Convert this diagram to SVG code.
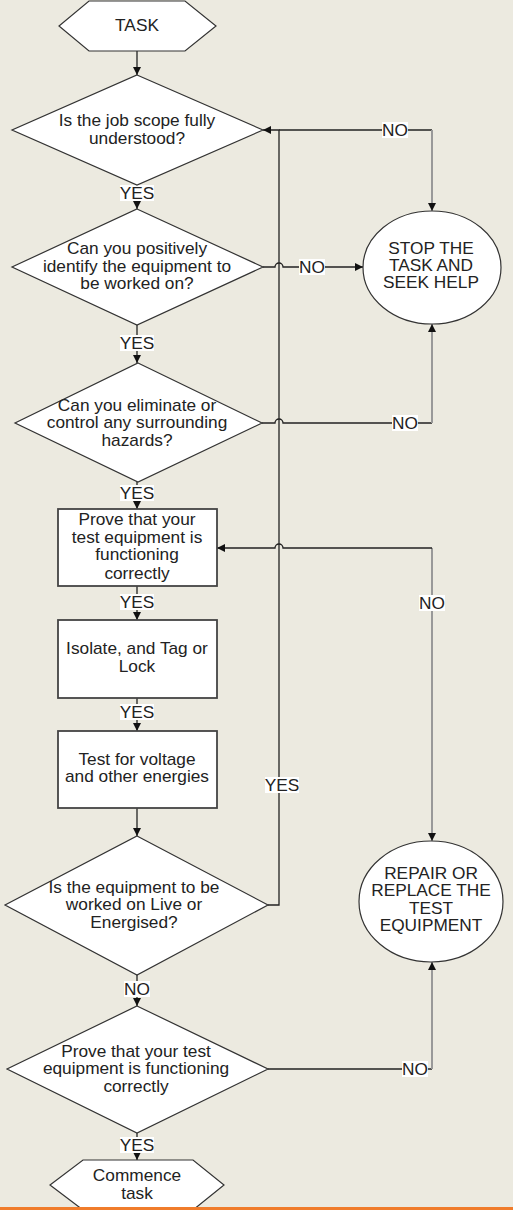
<svg xmlns="http://www.w3.org/2000/svg" width="513" height="1210" viewBox="0 0 513 1210">
<style>
.bg{fill:#ECEAE0}
.shape{fill:#fff;stroke:#333;stroke-width:1.2}
.box{fill:#fff;stroke:#444;stroke-width:1.8}
.t{font-family:"Liberation Sans",Arial,sans-serif;font-size:16px;fill:#222;text-anchor:middle}
.c{fill:none;stroke:#222;stroke-width:1.3}
.g{fill:none;stroke:#999;stroke-width:2}
.lb{fill:#fff}
</style>
<defs>
<marker id="ah" viewBox="0 0 10 10" refX="10" refY="5" markerWidth="10" markerHeight="8" markerUnits="userSpaceOnUse" orient="auto-start-reverse"><path d="M0,0 L10,5 L0,10 z" fill="#111"/></marker>
</defs>
<rect class="bg" x="0" y="0" width="513" height="1210"/>
<rect x="0" y="1207" width="513" height="3" fill="#F07C2B"/>

<g id="connectors">
<path class="c" d="M137,51 L137,75" marker-end="url(#ah)"/>
<path class="c" d="M137,185 L137,209" marker-end="url(#ah)"/>
<path class="c" d="M137,325 L137,363" marker-end="url(#ah)"/>
<path class="c" d="M137,482 L137,509" marker-end="url(#ah)"/>
<path class="c" d="M137,586 L137,620" marker-end="url(#ah)"/>
<path class="c" d="M137,698 L137,731" marker-end="url(#ah)"/>
<path class="c" d="M137,808 L137,836" marker-end="url(#ah)"/>
<path class="c" d="M137,975 L137,1006" marker-end="url(#ah)"/>
<path class="c" d="M137,1133 L137,1160" marker-end="url(#ah)"/>
<path class="c" d="M279,130 L432,130"/>
<path class="g" d="M432,130 L432,211" marker-end="url(#ah)"/>
<path class="c" d="M268,905 L279,905 L279,130 L263,130" marker-end="url(#ah)"/>
<path class="c" d="M263,267 L275,267 A4,4 0 0 1 283,267 L363,267" marker-end="url(#ah)"/>
<path class="c" d="M262,423 L275,423 A4,4 0 0 1 283,423 L432,423"/>
<path class="g" d="M432,423 L432,324" marker-end="url(#ah)"/>
<path class="g" d="M432,841 L432,548" marker-start="url(#ah)"/>
<path class="c" d="M432,548 L283,548 A4,4 0 0 0 275,548 L217,548" marker-end="url(#ah)"/>
<path class="c" d="M268,1069 L432,1069"/>
<path class="g" d="M432,1069 L432,962" marker-end="url(#ah)"/>

<rect class="lb" x="382" y="122" width="26" height="16"/>
<text class="t" transform="matrix(1.08 0 0 1 395 0)"><tspan x="0" y="136">NO</tspan></text>
<rect class="lb" x="120" y="185" width="34" height="16"/>
<text class="t" transform="matrix(1.08 0 0 1 137 0)"><tspan x="0" y="199">YES</tspan></text>
<rect class="lb" x="299" y="259" width="26" height="16"/>
<text class="t" transform="matrix(1.08 0 0 1 312 0)"><tspan x="0" y="273">NO</tspan></text>
<rect class="lb" x="120" y="335" width="34" height="16"/>
<text class="t" transform="matrix(1.08 0 0 1 137 0)"><tspan x="0" y="349">YES</tspan></text>
<rect class="lb" x="392" y="415" width="26" height="16"/>
<text class="t" transform="matrix(1.08 0 0 1 405 0)"><tspan x="0" y="429">NO</tspan></text>
<rect class="lb" x="120" y="485" width="34" height="16"/>
<text class="t" transform="matrix(1.08 0 0 1 137 0)"><tspan x="0" y="499">YES</tspan></text>
<rect class="lb" x="419" y="595" width="26" height="16"/>
<text class="t" transform="matrix(1.08 0 0 1 432 0)"><tspan x="0" y="609">NO</tspan></text>
<rect class="lb" x="120" y="594" width="34" height="16"/>
<text class="t" transform="matrix(1.08 0 0 1 137 0)"><tspan x="0" y="608">YES</tspan></text>
<rect class="lb" x="120" y="704" width="34" height="16"/>
<text class="t" transform="matrix(1.08 0 0 1 137 0)"><tspan x="0" y="718">YES</tspan></text>
<rect class="lb" x="265" y="777" width="34" height="16"/>
<text class="t" transform="matrix(1.08 0 0 1 282 0)"><tspan x="0" y="791">YES</tspan></text>
<rect class="lb" x="124" y="981" width="26" height="16"/>
<text class="t" transform="matrix(1.08 0 0 1 137 0)"><tspan x="0" y="995">NO</tspan></text>
<rect class="lb" x="402" y="1061" width="26" height="16"/>
<text class="t" transform="matrix(1.08 0 0 1 415 0)"><tspan x="0" y="1075">NO</tspan></text>
<rect class="lb" x="120" y="1137" width="34" height="16"/>
<text class="t" transform="matrix(1.08 0 0 1 137 0)"><tspan x="0" y="1151">YES</tspan></text>
</g>

<g id="task">
<polygon class="shape" points="89,1 185,1 216,26 185,51 89,51 59,26"/>
<text class="t" transform="matrix(1.08 0 0 1 137 0)"><tspan x="0" y="31">TASK</tspan></text>
</g>
<g id="d1">
<polygon class="shape" points="137,75 263,130 137,185 12,130"/>
<text class="t" transform="matrix(1.08 0 0 1 137 0)"><tspan x="0" y="126">Is the job scope fully</tspan><tspan x="0" y="144">understood?</tspan></text>
</g>
<g id="d2">
<polygon class="shape" points="137,209 263,267 137,325 12,267"/>
<text class="t" transform="matrix(1.08 0 0 1 137 0)"><tspan x="0" y="254">Can you positively</tspan><tspan x="0" y="272">identify the equipment to</tspan><tspan x="0" y="289">be worked on?</tspan></text>
</g>
<g id="d3">
<polygon class="shape" points="138,363 262,423 138,482 15,423"/>
<text class="t" transform="matrix(1.08 0 0 1 137 0)"><tspan x="0" y="411">Can you eliminate or</tspan><tspan x="0" y="428">control any surrounding</tspan><tspan x="0" y="446">hazards?</tspan></text>
</g>
<g id="box1">
<rect class="box" x="58" y="509" width="159" height="77"/>
<text class="t" transform="matrix(1.08 0 0 1 137 0)"><tspan x="0" y="525">Prove that your</tspan><tspan x="0" y="543">test equipment is</tspan><tspan x="0" y="560">functioning</tspan><tspan x="0" y="579">correctly</tspan></text>
</g>
<g id="box2">
<rect class="box" x="58" y="620" width="159" height="78"/>
<text class="t" transform="matrix(1.08 0 0 1 137 0)"><tspan x="0" y="654">Isolate, and Tag or</tspan><tspan x="0" y="672">Lock</tspan></text>
</g>
<g id="box3">
<rect class="box" x="58" y="731" width="159" height="77"/>
<text class="t" transform="matrix(1.08 0 0 1 137 0)"><tspan x="0" y="765">Test for voltage</tspan><tspan x="0" y="782">and other energies</tspan></text>
</g>
<g id="d5">
<polygon class="shape" points="137,836 268,905 137,975 5,905"/>
<text class="t" transform="matrix(1.08 0 0 1 134 0)"><tspan x="0" y="893">Is the equipment to be</tspan><tspan x="0" y="910">worked on Live or</tspan><tspan x="0" y="928">Energised?</tspan></text>
</g>
<g id="d6">
<polygon class="shape" points="137,1006 268,1069 137,1133 7,1069"/>
<text class="t" transform="matrix(1.08 0 0 1 136 0)"><tspan x="0" y="1057">Prove that your test</tspan><tspan x="0" y="1074">equipment is functioning</tspan><tspan x="0" y="1092">correctly</tspan></text>
</g>
<g id="commence">
<polygon class="shape" points="83,1160 193,1160 224,1185 193,1210 83,1210 50,1185"/>
<text class="t" transform="matrix(1.08 0 0 1 137 0)"><tspan x="0" y="1181">Commence</tspan><tspan x="0" y="1199">task</tspan></text>
</g>
<g id="stop">
<ellipse class="shape" cx="432" cy="267.5" rx="69" ry="56.5"/>
<text class="t" transform="matrix(1.08 0 0 1 431 0)"><tspan x="0" y="254">STOP THE</tspan><tspan x="0" y="271">TASK AND</tspan><tspan x="0" y="288">SEEK HELP</tspan></text>
</g>
<g id="repair">
<ellipse class="shape" cx="431" cy="901.5" rx="72" ry="60.5"/>
<text class="t" transform="matrix(1.08 0 0 1 431 0)"><tspan x="0" y="879">REPAIR OR</tspan><tspan x="0" y="896">REPLACE THE</tspan><tspan x="0" y="914">TEST</tspan><tspan x="0" y="931">EQUIPMENT</tspan></text>
</g>
<rect x="0" y="1207" width="513" height="3" fill="#F07C2B"/>
</svg>
